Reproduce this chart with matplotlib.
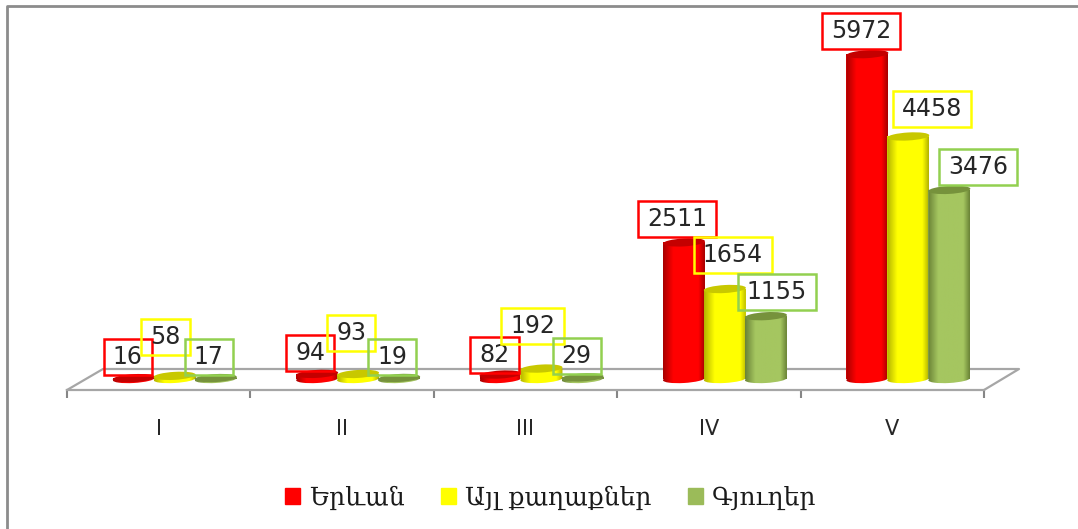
import matplotlib
matplotlib.use('Agg')
import numpy as np
import matplotlib.pyplot as plt
from matplotlib.colors import LinearSegmentedColormap
from matplotlib.patches import Patch, PathPatch
from matplotlib.path import Path
from matplotlib.transforms import Affine2D

# Datos
categories = ['I', 'II', 'III', 'IV', 'V']
series_names = ['Երևան', 'Այլ քաղաքներ', 'Գյուղեր']
yerevan = [16, 94, 82, 2511, 5972]
towns = [58, 93, 192, 1654, 4458]
villages = [17, 19, 29, 1155, 3476]

W, H = 1078, 529
PX_X = 917 / 5      # px per category
PX_Y = 0.0544       # px per unit

# pixel offsets of each label from the top of its bar
label_offsets = [
    [(-6, 21), (-7, 21), (-6, 20), (-7, 23), (-6, 23)],
    [(-9, 39), (-7, 41), (-9, 43), (8, 34), (24, 27)],
    [(-7, 21), (-7, 21), (-6, 21), (11, 24), (29, 23)],
]
series_colors = [
    dict(edge='#ff0000', dark='#a80000', main='#ff0000', top='#c40000'),
    dict(edge='#ffff00', dark='#b4b400', main='#ffff00', top='#c8c800'),
    dict(edge='#92d050', dark='#6b8437', main='#a5c660', top='#76923c'),
]
bar_shift = [-0.136, 0.087, 0.311]
GREY = '#8c8c8c'
TEXT = '#262626'


def wide_box(x0, y0, width, height, mutation_size):
    # label box with more padding at the sides than above and below
    px, py = 9, 6
    x0, x1 = x0 - px, x0 + width + px
    y0, y1 = y0 - py, y0 + height + py
    return Path([(x0, y0), (x1, y0), (x1, y1), (x0, y1), (x0, y0)], closed=True)


fig = plt.figure(figsize=(W / 100, H / 100), dpi=100)

# decoration in pixel coordinates: outer frame and chart floor
bg = fig.add_axes([0, 0, 1, 1])
bg.set_xlim(0, W)
bg.set_ylim(H, 0)
bg.axis('off')
bg.plot([6.5, 6.5, W], [H, 6, 6], color=GREY, lw=2, solid_capstyle='butt')
bg.plot([67, 103, 1019, 984], [390, 369, 369, 390], color='#a6a6a6', lw=1.6)

# chart axes: value 0 sits on y=379 px, bottom spine on y=390 px
ax = fig.add_axes([67 / W, 1 - 390 / H, 917 / W, 380 / H])
ax.patch.set_alpha(0)
ax.set_xlim(0, 5)
ax.set_ylim(-11 / PX_Y, 369 / PX_Y)
for name in ['top', 'left', 'right']:
    ax.spines[name].set_visible(False)
ax.spines['bottom'].set_color('#a6a6a6')
ax.spines['bottom'].set_linewidth(1.6)
ax.set_yticks([])
ax.set_xticks(np.arange(6))
ax.set_xticklabels([])
ax.tick_params(axis='x', which='major', length=5.5, width=1.5, color='#868686')
ax.set_xticks(np.arange(5) + 0.5, categories, minor=True, fontsize=15, color=TEXT)
ax.tick_params(axis='x', which='minor', length=0, pad=21)

# Cilindros
a_y = 4 / PX_Y
skew = 1.2 / PX_Y
gradient = np.linspace(0, 1, 64).reshape(1, -1)
pos = np.arange(5) + 0.5
for s, values in enumerate([yerevan, towns, villages]):
    c = series_colors[s]
    cmap = LinearSegmentedColormap.from_list(
        'cyl', [(0, c['dark']), (0.24, c['main']), (0.85, c['main']), (1, c['dark'])])
    bars = ax.bar(pos + bar_shift[s], values, 42 / PX_X, color=c['main'], lw=0,
                  zorder=3 + s)
    for rect, value in zip(bars, values):
        x0, w = rect.get_x(), rect.get_width()
        cx = x0 + w / 2
        ellipse = lambda y: Path.unit_circle().transformed(
            Affine2D(np.array([[w / 2, 0, cx], [skew, a_y, y], [0, 0, 1]])))
        body = Path.make_compound_path(rect.get_path().transformed(rect.get_patch_transform()),
                                       ellipse(0))
        im = ax.imshow(gradient, extent=(x0, x0 + w, -2 * a_y, value + 2 * a_y), cmap=cmap,
                       aspect='auto', zorder=3 + s)
        im.set_clip_path(PathPatch(body, transform=ax.transData))
        ax.add_patch(PathPatch(ellipse(value), facecolor=c['top'], lw=0, zorder=3 + s))
ax.set_xlim(0, 5)
ax.set_ylim(-11 / PX_Y, 369 / PX_Y)

# Etiquetas
for s, values in enumerate([yerevan, towns, villages]):
    for i, value in enumerate(values):
        dx, dy = label_offsets[s][i]
        ax.annotate(str(value), (pos[i] + bar_shift[s], value), xytext=(dx * 0.72, dy * 0.72),
                    textcoords='offset points', ha='center', va='center', fontsize=17,
                    color=TEXT, zorder=10, annotation_clip=False,
                    bbox=dict(boxstyle=wide_box, facecolor='none',
                              edgecolor=series_colors[s]['edge'], linewidth=1.8))

handles = [Patch(color=c['main'] if i < 2 else '#9bbb59') for i, c in enumerate(series_colors)]
fig.legend(handles, series_names, loc='center', bbox_to_anchor=(551 / W, 1 - 498 / H), ncol=3,
           frameon=False, handlelength=0.6, handleheight=0.6, handletextpad=0.36,
           columnspacing=1.45, prop=dict(family='DejaVu Serif', size=18), labelcolor='#1a1a1a')

fig.savefig('out.png', dpi=100)
